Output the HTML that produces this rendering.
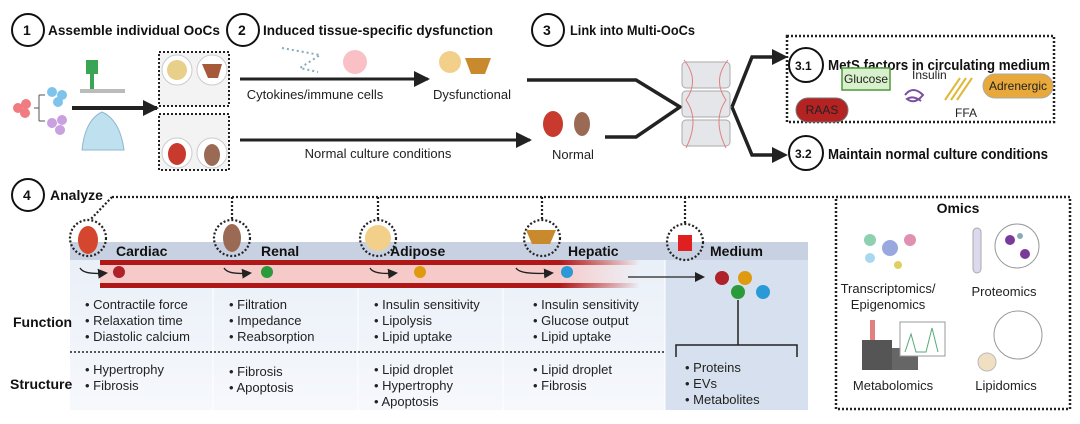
<!DOCTYPE html>
<html><head><meta charset="utf-8"><style>
html,body{margin:0;padding:0;background:#fff;}
svg{display:block;font-family:"Liberation Sans",sans-serif;}
</style></head><body>
<svg width="1080" height="424" viewBox="0 0 1080 424" xmlns="http://www.w3.org/2000/svg">
<defs>
<marker id="ah" markerWidth="10" markerHeight="10" refX="8" refY="5" orient="auto" markerUnits="userSpaceOnUse"><path d="M0,0 L10,5 L0,10 z" fill="#222"/></marker>
<marker id="ahb" markerWidth="16" markerHeight="16" refX="14" refY="8" orient="auto" markerUnits="userSpaceOnUse"><path d="M0,0 L16,8 L0,16 z" fill="#222"/></marker>
<linearGradient id="red" x1="0" x2="1"><stop offset="0" stop-color="#b01818"/><stop offset="0.85" stop-color="#b01818"/><stop offset="1" stop-color="#b01818" stop-opacity="0"/></linearGradient>
<linearGradient id="pink" x1="0" x2="1"><stop offset="0" stop-color="#f7caca"/><stop offset="0.85" stop-color="#f7caca"/><stop offset="1" stop-color="#f7caca" stop-opacity="0"/></linearGradient>
<linearGradient id="col" x1="0" y1="0" x2="0" y2="1"><stop offset="0" stop-color="#eaf0f8"/><stop offset="1" stop-color="#f6f8fc"/></linearGradient>
</defs>
<g fill="none" stroke="#111" stroke-width="2">
<circle cx="28" cy="30" r="16"/><circle cx="243" cy="30" r="16"/><circle cx="548" cy="30" r="16"/>
<circle cx="806" cy="65" r="17"/><circle cx="806" cy="153" r="17"/><circle cx="28" cy="195" r="16"/>
</g>
<g font-weight="bold" font-size="14" fill="#111">
<text x="23" y="35">1</text><text x="238" y="35">2</text><text x="543" y="35">3</text><text x="23" y="200">4</text>
<text x="795" y="70" font-size="12">3.1</text><text x="795" y="158" font-size="12">3.2</text>
<text x="48" y="35" textLength="172" lengthAdjust="spacingAndGlyphs">Assemble individual OoCs</text>
<text x="263" y="35" textLength="230" lengthAdjust="spacingAndGlyphs">Induced tissue-specific dysfunction</text>
<text x="570" y="35" textLength="125" lengthAdjust="spacingAndGlyphs">Link into Multi-OoCs</text>
<text x="828" y="70" font-size="15" textLength="222" lengthAdjust="spacingAndGlyphs">MetS factors in circulating medium</text>
<text x="828" y="159" font-size="15" textLength="220" lengthAdjust="spacingAndGlyphs">Maintain normal culture conditions</text>
<text x="50" y="200">Analyze</text>
</g>
<!-- step1 icons -->
<g><circle cx="18" cy="108" r="5" fill="#f07b80"/><circle cx="26" cy="104" r="5" fill="#f07b80"/><circle cx="25" cy="113" r="5" fill="#f07b80"/>
<circle cx="52" cy="92" r="5" fill="#7ec3ec"/><circle cx="62" cy="95" r="5" fill="#7ec3ec"/><circle cx="58" cy="102" r="5" fill="#7ec3ec"/>
<circle cx="52" cy="123" r="5" fill="#c9a0e0"/><circle cx="62" cy="120" r="5" fill="#c9a0e0"/><circle cx="60" cy="130" r="5" fill="#c9a0e0"/>
<path d="M34,108 h5 M39,95 v26 M39,95 h6 M39,121 h6" stroke="#555" fill="none"/>
<rect x="86" y="60" width="12" height="14" fill="#3aa655"/><rect x="90" y="74" width="4" height="16" fill="#3aa655"/><rect x="80" y="89" width="45" height="4" fill="#bbb"/>
<path d="M82,150 Q85,120 102,112 Q120,120 124,150 Z" fill="#bfe0ef" stroke="#8fb8d0"/></g>
<line x1="72" y1="108" x2="157" y2="108" stroke="#222" stroke-width="4" marker-end="url(#ahb)"/>
<rect x="159" y="52" width="70" height="54" fill="#f3f3f3" stroke="#222" stroke-width="2" stroke-dasharray="2,2"/>
<rect x="159" y="114" width="70" height="56" fill="#f3f3f3" stroke="#222" stroke-width="2" stroke-dasharray="2,2"/>
<circle cx="177" cy="70" r="15" fill="#fff" stroke="#ccc"/><circle cx="177" cy="70" r="10" fill="#e8cf8a"/>
<circle cx="212" cy="70" r="15" fill="#fff" stroke="#ccc"/><path d="M202,64 h20 l-4,14 h-10 z" fill="#a75a3a"/>
<circle cx="177" cy="153" r="15" fill="#fff" stroke="#ccc"/><ellipse cx="177" cy="154" rx="9" ry="11" fill="#c83a2e"/>
<circle cx="212" cy="153" r="15" fill="#fff" stroke="#ccc"/><ellipse cx="212" cy="155" rx="8" ry="11" fill="#9b6a55"/>
<!-- step 2 -->
<line x1="240" y1="79" x2="428" y2="79" stroke="#222" stroke-width="3" marker-end="url(#ahb)"/>
<line x1="240" y1="140" x2="530" y2="140" stroke="#222" stroke-width="3" marker-end="url(#ahb)"/>
<circle cx="355" cy="62" r="12" fill="#f7b0b8" opacity="0.8"/>
<path d="M282,48 L320,55 L300,68 L318,72" stroke="#8ab" stroke-dasharray="2,3" fill="none" stroke-width="2"/>
<circle cx="450" cy="62" r="11" fill="#f2d08a"/><path d="M465,58 h26 l-6,16 h-14 z" fill="#c98a2e"/>
<g font-size="13" fill="#222"><text x="315" y="99" text-anchor="middle">Cytokines/immune cells</text>
<text x="472" y="99" text-anchor="middle">Dysfunctional</text>
<text x="378" y="158" text-anchor="middle">Normal culture conditions</text>
<text x="573" y="159" text-anchor="middle">Normal</text></g>
<ellipse cx="553" cy="124" rx="10" ry="13" fill="#c83a2e"/><ellipse cx="582" cy="124" rx="8" ry="12" fill="#9b6a55"/>
<!-- step 3 -->
<polyline points="527,80 636,80 680,107 636,137 605,137" fill="none" stroke="#222" stroke-width="3.5"/>
<g fill="#e4e6ea" stroke="#aaa"><rect x="682" y="62" width="48" height="26" rx="4"/><rect x="682" y="91" width="48" height="26" rx="4"/><rect x="682" y="120" width="48" height="26" rx="4"/></g>
<path d="M684,60 Q700,80 686,100 Q700,120 686,148 M728,60 Q712,80 726,100 Q712,120 726,148" stroke="#e08080" fill="none"/>
<polyline points="732,107 752,57 775,57" fill="none" stroke="#222" stroke-width="3.5"/>
<path d="M772,49 L788,57 L772,65 z" fill="#222"/>
<polyline points="732,107 752,155 775,155" fill="none" stroke="#222" stroke-width="3.5"/>
<path d="M772,147 L788,155 L772,163 z" fill="#222"/>
<rect x="787" y="36" width="267" height="86" fill="none" stroke="#222" stroke-width="2.5" stroke-dasharray="2,2"/>
<rect x="842" y="68" width="48" height="22" fill="#d8f0cc" stroke="#4d9a3a" stroke-width="1.5"/>
<text x="866" y="83" text-anchor="middle" font-size="12" fill="#222">Glucose</text>
<text x="912" y="79" font-size="12" fill="#222">Insulin</text>
<path d="M905,95 q8,-10 18,0 q-8,10 -16,4 q6,-4 14,2" stroke="#7a4fa0" fill="none" stroke-width="2"/>
<path d="M945,100 L960,78 M951,100 L966,78 M957,100 L972,78" stroke="#e0b83a" stroke-width="2"/>
<text x="955" y="117" font-size="12" fill="#222">FFA</text>
<rect x="983" y="74" width="70" height="24" rx="12" fill="#e8a93a" stroke="#aaa"/>
<text x="1018" y="90" text-anchor="middle" font-size="12" fill="#222">Adrenergic</text>
<rect x="796" y="98" width="52" height="24" rx="12" fill="#b52222" stroke="#777"/>
<text x="822" y="114" text-anchor="middle" font-size="12" fill="#222">RAAS</text>
<!-- step 4 -->
<rect x="70" y="260" width="595" height="150" fill="url(#col)"/>
<rect x="665" y="260" width="143" height="150" fill="#d7e0ee"/>
<g stroke="#fff" stroke-width="1"><line x1="213" y1="242" x2="213" y2="410"/><line x1="358" y1="242" x2="358" y2="410"/><line x1="503" y1="242" x2="503" y2="410"/><line x1="665" y1="242" x2="665" y2="410"/></g>
<rect x="70" y="242" width="738" height="18" fill="#c7d1e2"/>
<rect x="100" y="262" width="540" height="24" fill="url(#pink)"/>
<rect x="100" y="260" width="540" height="5" fill="url(#red)"/>
<rect x="100" y="283" width="540" height="5" fill="url(#red)"/>
<g fill="none" stroke="#222" stroke-width="2.2" stroke-dasharray="2,2">
<path d="M112,197 H836"/><path d="M112,197 L90,220"/>
<path d="M232,197 V219"/><path d="M378,197 V219"/><path d="M542,197 V219"/><path d="M685,197 V224"/>
<circle cx="88" cy="238" r="18"/><circle cx="232" cy="238" r="18"/><circle cx="378" cy="238" r="18"/><circle cx="542" cy="238" r="18"/><circle cx="685" cy="242" r="18"/>
<rect x="836" y="197" width="234" height="212" stroke-width="2.5"/>
<path d="M70,352 H665" stroke-width="1.5"/>
</g>
<ellipse cx="88" cy="240" rx="10" ry="14" fill="#d5462e"/><ellipse cx="232" cy="238" rx="9" ry="14" fill="#9b6a55"/>
<circle cx="378" cy="238" r="13" fill="#f2d08a"/><path d="M526,230 h30 l-6,14 h-18 z" fill="#c98a2e"/><rect x="678" y="235" width="14" height="16" fill="#e02020"/>
<g font-weight="bold" font-size="14" fill="#111">
<text x="116" y="256">Cardiac</text><text x="261" y="256">Renal</text><text x="390" y="256">Adipose</text><text x="568" y="256">Hepatic</text><text x="710" y="256">Medium</text>
<text x="13" y="327">Function</text><text x="10" y="389">Structure</text>
<text x="958" y="213" text-anchor="middle">Omics</text></g>
<g stroke="#222" stroke-width="1.3" fill="none">
<path d="M80,268 q4,7 26,5" marker-end="url(#ah)"/><path d="M224,268 q4,7 26,5" marker-end="url(#ah)"/><path d="M370,268 q4,7 26,5" marker-end="url(#ah)"/><path d="M516,268 q4,7 36,5" marker-end="url(#ah)"/>
<line x1="628" y1="277" x2="703" y2="277" marker-end="url(#ah)"/>
<path d="M738,300 V345 M676,357 V345 H797 V357" stroke-width="1.5"/>
</g>
<circle cx="119" cy="272" r="6" fill="#b0222a"/><circle cx="267" cy="272" r="6" fill="#2a9a3a"/><circle cx="420" cy="272" r="6" fill="#e09a10"/><circle cx="567" cy="272" r="6" fill="#2a9ad6"/>
<circle cx="722" cy="278" r="7" fill="#b0222a"/><circle cx="745" cy="278" r="7" fill="#e09a10"/><circle cx="738" cy="292" r="7" fill="#2a9a3a"/><circle cx="763" cy="292" r="7" fill="#2a9ad6"/>
<g font-size="13" fill="#222">
<text x="85" y="309">• Contractile force</text><text x="85" y="325">• Relaxation time</text><text x="85" y="341">• Diastolic calcium</text>
<text x="229" y="309">• Filtration</text><text x="229" y="325">• Impedance</text><text x="229" y="341">• Reabsorption</text>
<text x="374" y="309">• Insulin sensitivity</text><text x="374" y="325">• Lipolysis</text><text x="374" y="341">• Lipid uptake</text>
<text x="533" y="309">• Insulin sensitivity</text><text x="533" y="325">• Glucose output</text><text x="533" y="341">• Lipid uptake</text>
<text x="85" y="374">• Hypertrophy</text><text x="85" y="390">• Fibrosis</text>
<text x="229" y="376">• Fibrosis</text><text x="229" y="392">• Apoptosis</text>
<text x="374" y="374">• Lipid droplet</text><text x="374" y="390">• Hypertrophy</text><text x="374" y="406">• Apoptosis</text>
<text x="533" y="374">• Lipid droplet</text><text x="533" y="390">• Fibrosis</text>
<text x="685" y="372">• Proteins</text><text x="685" y="388">• EVs</text><text x="685" y="404">• Metabolites</text>
<text x="888" y="293" text-anchor="middle">Transcriptomics/</text><text x="888" y="309" text-anchor="middle">Epigenomics</text>
<text x="1004" y="296" text-anchor="middle">Proteomics</text>
<text x="893" y="390" text-anchor="middle">Metabolomics</text><text x="1006" y="390" text-anchor="middle">Lipidomics</text>
</g>
<!-- omics icons -->
<g><circle cx="870" cy="240" r="6" fill="#8ed0b0"/><circle cx="890" cy="248" r="8" fill="#9aa8e0"/><circle cx="910" cy="240" r="6" fill="#e090b0"/><circle cx="870" cy="258" r="5" fill="#a8d8f0"/><circle cx="898" cy="265" r="4" fill="#e0d060"/>
<rect x="973" y="228" width="8" height="45" rx="4" fill="#dcd8ee" stroke="#aaa"/>
<circle cx="1017" cy="246" r="22" fill="#fff" stroke="#999"/><circle cx="1010" cy="240" r="5" fill="#7a3a9a"/><circle cx="1025" cy="254" r="5" fill="#7a3a9a"/><circle cx="1020" cy="236" r="3" fill="#8ab"/>
<rect x="862" y="340" width="30" height="30" fill="#555"/><rect x="892" y="348" width="26" height="22" fill="#666"/>
<rect x="870" y="320" width="5" height="20" fill="#e08080"/>
<rect x="900" y="322" width="45" height="34" fill="#fff" stroke="#999"/><path d="M905,352 l6,-18 l5,18 l10,0 l6,-24 l6,24" stroke="#5aa87a" fill="none"/>
<circle cx="1018" cy="335" r="24" fill="#fff" stroke="#999"/>
<circle cx="987" cy="362" r="9" fill="#f0dfc0" stroke="#bbb"/>
</g>
</svg>
</body></html>
